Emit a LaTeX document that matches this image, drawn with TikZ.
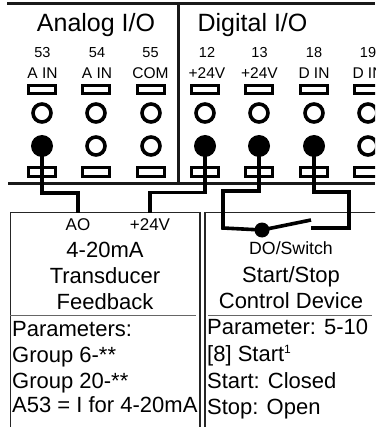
\documentclass[tikz,border=0pt]{standalone}
\usepackage{fontspec}
\setmainfont{Liberation Sans}
\tikzset{
  thick line/.style={line width=3pt,black!90},
  wire/.style={line width=3.6pt,black,line join=miter},
  thin box/.style={draw=black!85,line width=1.3pt},
  rule/.style={draw=black!60,line width=0.9pt},
  term/.style={draw,line width=2.6pt,fill=white,minimum width=26.5pt,minimum height=8.5pt,inner sep=0pt},
  ring/.style={circle,draw,line width=3.6pt,fill=white,minimum size=18pt,inner sep=0pt},
  dot/.style={circle,fill=black,minimum size=22pt,inner sep=0pt},
  head/.style={anchor=base,inner sep=0pt,font=\fontsize{25}{25}\selectfont},
  num/.style={anchor=base,inner sep=0pt,font=\fontsize{14.5}{14.5}\selectfont},
  lab/.style={anchor=base,inner sep=0pt,font=\fontsize{15.5}{15.5}\selectfont},
  small/.style={anchor=base,inner sep=0pt,font=\fontsize{17}{17}\selectfont},
  body/.style={anchor=base,inner sep=0pt,font=\fontsize{22}{22}\selectfont},
  left text/.style={anchor=base west,inner sep=0pt,font=\fontsize{22}{22}\selectfont},
}
\begin{document}
\begin{tikzpicture}[x=1pt,y=-1pt]
\useasboundingbox (0,0) rectangle (375,427);
\clip (0,0) rectangle (375,427);
% frame
\coordinate (tl) at (7,4); \coordinate (tr) at (375,4);
\coordinate (bl) at (8,184); \coordinate (br) at (375,184);
\coordinate (dt) at (178,4); \coordinate (db) at (178,184);
\draw[thick line] (tl) -- (tr);
\draw[thick line] (bl) -- (br);
\draw[thick line] (dt) -- (db);
% headings
\node[head] (analog) at (96,32) {Analog I/O};
\node[head] (digital) at (252.5,32) {Digital I/O};
% lower boxes
\draw[thin box] (10.5,440) -- (10.5,212.5) -- (200,212.5) -- (200,440);
\draw[thin box] (205,440) -- (205,212.5) -- (380,212.5);
\coordinate (r1a) at (10,315); \coordinate (r1b) at (196,315);
\coordinate (r2a) at (208,315); \coordinate (r2b) at (372,315);
\draw[rule] (r1a) -- (r1b);
\draw[rule] (r2a) -- (r2b);
% terminals
\foreach \n/\x/\tx/\l in {53/42/42.5/A IN,54/96/97/A IN,55/151/150.5/COM,12/205/207/+24V,13/259/259.5/+24V,18/314/314/D IN,19/368/368/D IN}{
  \node[num] (n\n) at (\tx,58) {\n};
  \node[lab] (l\n) at (\tx,79) {\l};
  \node[term] (a\n) at (\x,89.5) {};
  \node[ring] (u\n) at (\x,113) {};
  \node[term] (b\n) at (\x,172) {};
}
\foreach \n/\x in {54/96,55/151,19/368}{\node[ring] (v\n) at (\x,146) {};}
\foreach \n/\x in {53/42,12/205,13/259,18/314}{\node[dot] (v\n) at (\x,146) {};}
% wires
\coordinate (ao) at (78,213);
\coordinate (p24) at (150,213);
\node[dot,minimum size=15pt] (sw) at (262,230) {};
\coordinate (swtip) at (311,220);
\coordinate (swr) at (311,228);
\draw[wire] (v53.center) -- (42,193) -- (78,193) -- (ao);
\draw[wire] (v12.center) -- (205,192.5) -- (150,192.5) -- (p24);
\draw[wire] (v13.center) -- (259,191) -- (223,191) -- (223,228) -- (sw.center);
\draw[wire] (v18.center) -- (314,192) -- (349,192) -- (349,228) -- (swr);
\draw[wire] (sw.center) -- (swtip);
% box texts
\node[small] (tao) at (78,230) {AO};
\node[small] (t24) at (150,230) {+24V};
\node[body] (t1) at (105,257) {4-20mA};
\node[body] (t2) at (105,283) {Transducer};
\node[body] (t3) at (105,309) {Feedback};
\node[left text] (t4) at (12,336) {Parameters:};
\node[left text] (t5) at (12,362) {Group 6-**};
\node[left text] (t6) at (12,388) {Group 20-**};
\node[left text] (t7) at (12,412) {A53 = I for 4-20mA};
\node[small,font=\fontsize{17.7}{17.7}\selectfont] (s0) at (291,254) {DO/Switch};
\node[body] (s1) at (291,282) {Start/Stop};
\node[body] (s2) at (291,308) {Control Device};
\node[left text] (s3) at (207,334) {Parameter: 5-10};
\node[left text] (s4) at (207,361) {[8] Start\raisebox{8pt}{\fontsize{12}{12}\selectfont 1}};
\node[left text] (s5) at (207,388) {Start: Closed};
\node[left text] (s6) at (207,414) {Stop: Open};
\end{tikzpicture}
\end{document}
